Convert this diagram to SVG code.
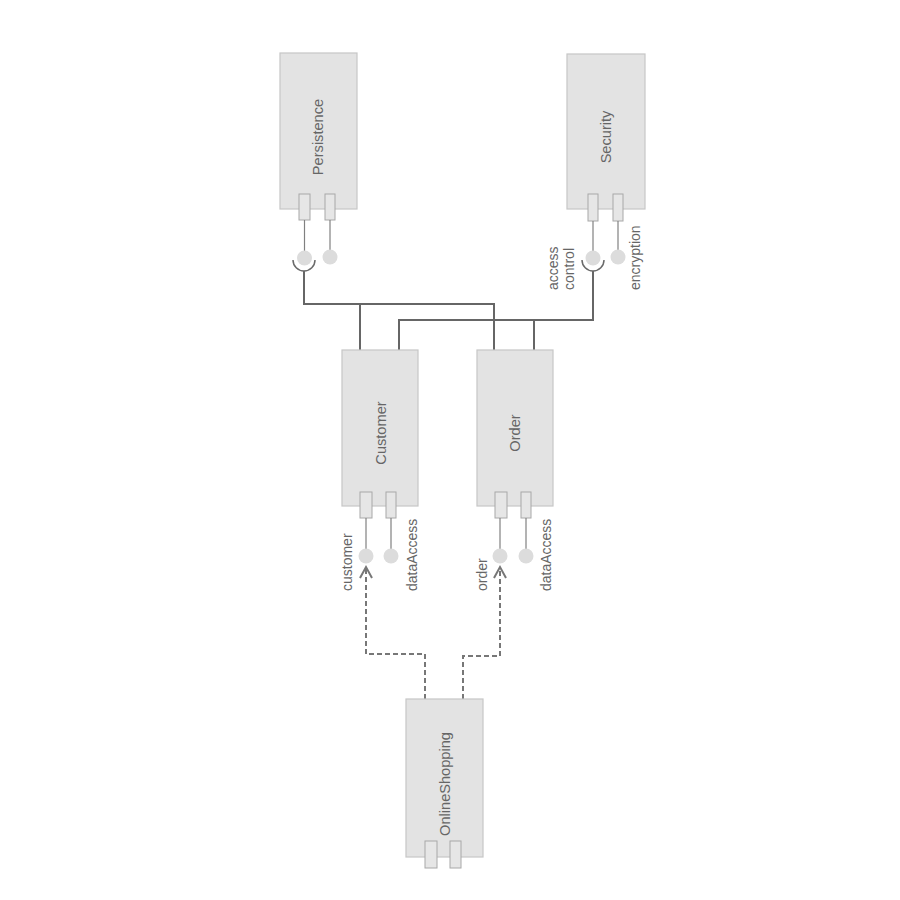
<svg xmlns="http://www.w3.org/2000/svg" width="900" height="900" viewBox="0 0 900 900">
<style>
.box{fill:#e3e3e3;stroke:#c6c6c6;stroke-width:1.2}
.port{fill:#e6e6e6;stroke:#a8a8a8;stroke-width:1}
.stem{stroke:#808080;stroke-width:1.2;fill:none}
.ball{fill:#dcdcdc;stroke:none}
.sock{fill:none;stroke:#6a6a6a;stroke-width:1.5}
.title{font-family:"Liberation Sans",Arial,sans-serif;font-size:14.6px;fill:#666;text-anchor:middle}
.lbl{font-family:"Liberation Sans",Arial,sans-serif;font-size:14px;fill:#666;text-anchor:start}
.conn{fill:none;stroke:#666;stroke-width:2}
.dep{fill:none;stroke:#777;stroke-width:2;stroke-dasharray:5,3}
.arr{fill:none;stroke:#777;stroke-width:2}
</style>
<rect width="900" height="900" fill="#ffffff"/>
<g id="connectors">
<polyline class="conn" points="304,271 304,304 494,304 494,350"/>
<line class="conn" x1="360" y1="304" x2="360" y2="350"/>
<polyline class="conn" points="593,271 593,320 399,320 399,350"/>
<line class="conn" x1="534" y1="320" x2="534" y2="350"/>
<polyline class="dep" points="425,699 425,654 366,654 366,569"/>
<polyline class="arr" points="360,578 366,567 372,578"/>
<polyline class="dep" points="463,699 463,656 500,656 500,569"/>
<polyline class="arr" points="494,578 500,567 506,578"/>
</g>
<g id="Persistence">
<rect class="box" x="280" y="53" width="77" height="156"/>
<text class="title" transform="rotate(-90 323 137)" x="323" y="137">Persistence</text>
<rect class="port" x="299" y="194" width="11" height="26"/>
<rect class="port" x="325" y="194" width="10" height="26"/>
<line class="stem" x1="304.5" y1="220" x2="304.5" y2="251"/>
<line class="stem" x1="330" y1="220" x2="330" y2="250"/>
<circle class="ball" cx="304.5" cy="258" r="7.5"/>
<circle class="ball" cx="330" cy="257" r="7.5"/>
<path class="sock" d="M293,260 A11,11 0 0 0 315,260"/>
</g>
<g id="Security">
<rect class="box" x="567" y="54" width="78" height="155"/>
<text class="title" transform="rotate(-90 611 137)" x="611" y="137">Security</text>
<rect class="port" x="588" y="194" width="10" height="27"/>
<rect class="port" x="613" y="194" width="10" height="27"/>
<line class="stem" x1="593" y1="221" x2="593" y2="251"/>
<line class="stem" x1="618" y1="221" x2="618" y2="250"/>
<circle class="ball" cx="593" cy="258" r="7.5"/>
<circle class="ball" cx="618" cy="257" r="7.5"/>
<path class="sock" d="M582,260 A11,11 0 0 0 604,260"/>
<text class="lbl" transform="rotate(-90 558 290)" x="558" y="290">access</text>
<text class="lbl" transform="rotate(-90 574 290)" x="574" y="290">control</text>
<text class="lbl" transform="rotate(-90 640 290)" x="640" y="290">encryption</text>
</g>
<g id="Customer">
<rect class="box" x="342" y="350" width="76" height="156"/>
<text class="title" transform="rotate(-90 386 433)" x="386" y="433">Customer</text>
<rect class="port" x="360" y="492" width="12" height="26"/>
<rect class="port" x="386" y="492" width="10" height="26"/>
<line class="stem" x1="366" y1="518" x2="366" y2="549"/>
<line class="stem" x1="391" y1="518" x2="391" y2="549"/>
<circle class="ball" cx="366" cy="556" r="7.5"/>
<circle class="ball" cx="391" cy="556" r="7.5"/>
<text class="lbl" transform="rotate(-90 352 591)" x="352" y="591">customer</text>
<text class="lbl" transform="rotate(-90 417 591)" x="417" y="591">dataAccess</text>
</g>
<g id="Order">
<rect class="box" x="477" y="350" width="76" height="156"/>
<text class="title" transform="rotate(-90 520 433)" x="520" y="433">Order</text>
<rect class="port" x="495" y="492" width="12" height="26"/>
<rect class="port" x="521" y="492" width="10" height="26"/>
<line class="stem" x1="500" y1="518" x2="500" y2="549"/>
<line class="stem" x1="526" y1="518" x2="526" y2="549"/>
<circle class="ball" cx="500" cy="556" r="7.5"/>
<circle class="ball" cx="526" cy="556" r="7.5"/>
<text class="lbl" transform="rotate(-90 487 591)" x="487" y="591">order</text>
<text class="lbl" transform="rotate(-90 551 591)" x="551" y="591">dataAccess</text>
</g>
<g id="OnlineShopping">
<rect class="box" x="406" y="699" width="77" height="158"/>
<text class="title" transform="rotate(-90 450 784)" x="450" y="784">OnlineShopping</text>
<rect class="port" x="425" y="841" width="12" height="27"/>
<rect class="port" x="450" y="841" width="11" height="27"/>
</g>
</svg>
